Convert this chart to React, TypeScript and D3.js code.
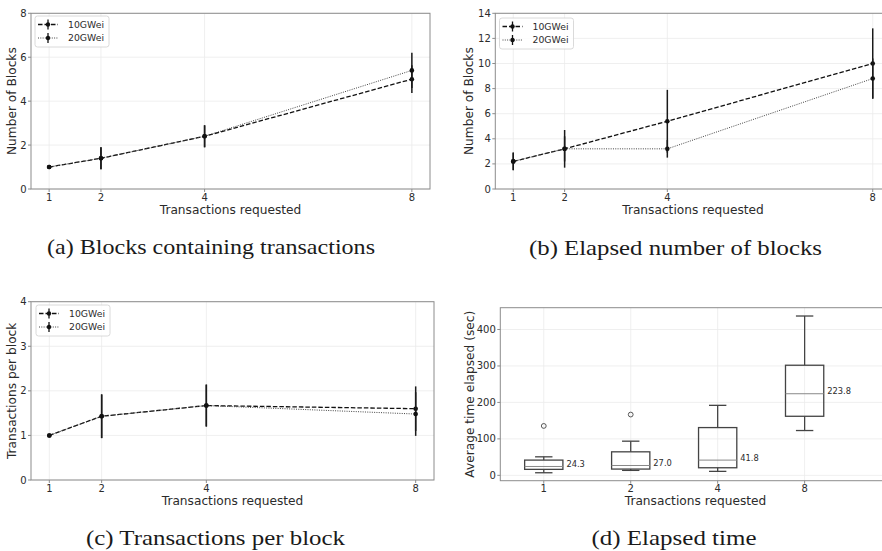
import { useEffect, useRef } from "react";
import * as d3 from "d3";

// ---- data ----
const txRequested = [1, 2, 4, 8];
const seriesNames = ["10GWei", "20GWei"];

// (a) blocks containing transactions
const blocks10 = [1.0, 1.4, 2.4, 5.0];
const blocks10Err = [0, 0.5, 0.5, 0.63];
const blocks20 = [1.0, 1.4, 2.4, 5.4];
const blocks20Err = [0, 0.5, 0.5, 0.8];

// (b) elapsed number of blocks
const elapsed10 = [2.2, 3.2, 5.4, 10.0];
const elapsed10Err = [0.7, 1.5, 2.5, 2.8];
const elapsed20 = [2.2, 3.2, 3.2, 8.8];
const elapsed20Err = [0.7, 1.0, 0.7, 1.6];

// (c) transactions per block
const perBlock10 = [1.0, 1.43, 1.67, 1.6];
const perBlock10Err = [0, 0.49, 0.47, 0.5];
const perBlock20 = [1.0, 1.43, 1.67, 1.48];
const perBlock20Err = [0, 0.49, 0.47, 0.49];

// (d) elapsed time box plots
const boxCats = ["1", "2", "4", "8"];
const boxQ1 = [16.4, 17.2, 20.8, 162];
const boxMedian = [24.3, 27.0, 41.8, 223.8];
const boxQ3 = [41.8, 64.5, 131, 302];
const whiskerLow = [7.1, 13.6, 10.9, 122.9];
const whiskerHigh = [50.8, 93.7, 192, 437];
const boxOutliers = [[135.5], [166.7], [], []];

const captions = [
  "(a) Blocks containing transactions",
  "(b) Elapsed number of blocks",
  "(c) Transactions per block",
  "(d) Elapsed time",
];

const FONT = "DejaVu Sans";
const TEXT = "#2b2b2b";
const SPINE = "#8c8c8c";
const GRID = "#ebebeb";

const App = () => {
  const svgRef = useRef(null);

  useEffect(() => {
    const svg = d3.select(svgRef.current);
    svg.selectAll("*").remove();

    const frame = (g, x, y, box, xTicks, xFmt, yTicks, xLabel, yLabel, yLabelOff) => {
      // grid
      g.selectAll(".gx").data(xTicks).enter().append("line")
        .attr("x1", (d) => x(d)).attr("x2", (d) => x(d))
        .attr("y1", box.top).attr("y2", box.bottom)
        .attr("stroke", GRID).attr("stroke-width", 0.8);
      g.selectAll(".gy").data(yTicks).enter().append("line")
        .attr("x1", box.left).attr("x2", box.right)
        .attr("y1", (d) => y(d)).attr("y2", (d) => y(d))
        .attr("stroke", GRID).attr("stroke-width", 0.8);

      // spines
      g.append("rect")
        .attr("x", box.left).attr("y", box.top)
        .attr("width", box.right - box.left).attr("height", box.bottom - box.top)
        .attr("fill", "none").attr("stroke", SPINE).attr("stroke-width", 1);

      // ticks
      g.selectAll(".tx").data(xTicks).enter().append("line")
        .attr("x1", (d) => x(d)).attr("x2", (d) => x(d))
        .attr("y1", box.bottom).attr("y2", box.bottom + 3)
        .attr("stroke", SPINE);
      g.selectAll(".ty").data(yTicks).enter().append("line")
        .attr("x1", box.left - 3).attr("x2", box.left)
        .attr("y1", (d) => y(d)).attr("y2", (d) => y(d))
        .attr("stroke", SPINE);

      g.selectAll(".lx").data(xTicks).enter().append("text")
        .attr("x", (d) => x(d)).attr("y", box.bottom + 11.5)
        .attr("text-anchor", "middle")
        .style("font-family", FONT).style("font-size", "10px").style("fill", TEXT)
        .text((d, i) => xFmt(d, i));
      g.selectAll(".ly").data(yTicks).enter().append("text")
        .attr("x", box.left - 4.5).attr("y", (d) => y(d))
        .attr("dy", "0.35em")
        .attr("text-anchor", "end")
        .style("font-family", FONT).style("font-size", "10px").style("fill", TEXT)
        .text((d) => d);

      // axis titles
      g.append("text")
        .attr("x", (box.left + box.right) / 2).attr("y", box.bottom + 24.5)
        .attr("text-anchor", "middle")
        .style("font-family", FONT).style("font-size", "12.2px").style("fill", TEXT)
        .text(xLabel);
      const cy = (box.top + box.bottom) / 2;
      const cx = box.left - yLabelOff;
      g.append("text")
        .attr("transform", `translate(${cx},${cy}) rotate(-90)`)
        .attr("text-anchor", "middle").attr("dy", "0.35em")
        .style("font-family", FONT).style("font-size", "12.2px").style("fill", TEXT)
        .text(yLabel);
    };

    const styles = [
      { stroke: "#111", width: 1.3, dash: "4.5,2" },
      { stroke: "#444", width: 1, dash: "1,1.3" },
    ];

    const linePanel = (box, yDomain, yTicks, series, yLabel, yLabelOff, legendPos) => {
      const g = svg.append("g");
      const x = d3.scaleLinear().domain([0.65, 8.35]).range([box.left, box.right]);
      const y = d3.scaleLinear().domain(yDomain).range([box.bottom, box.top]);
      frame(g, x, y, box, txRequested, (d) => d, yTicks, "Transactions requested", yLabel, yLabelOff);

      series.forEach((s, si) => {
        const line = d3.line().x((d, i) => x(txRequested[i])).y((d) => y(d));
        g.append("path")
          .datum(s.mean)
          .attr("d", line)
          .attr("fill", "none")
          .attr("stroke", styles[si].stroke)
          .attr("stroke-width", styles[si].width)
          .attr("stroke-dasharray", styles[si].dash);
      });
      series.forEach((s) => {
        g.selectAll(null).data(s.mean).enter().append("line")
          .attr("x1", (d, i) => x(txRequested[i])).attr("x2", (d, i) => x(txRequested[i]))
          .attr("y1", (d, i) => y(d - s.err[i])).attr("y2", (d, i) => y(d + s.err[i]))
          .attr("stroke", "#1a1a1a").attr("stroke-width", 1.5);
        g.selectAll(null).data(s.mean).enter().append("circle")
          .attr("cx", (d, i) => x(txRequested[i])).attr("cy", (d) => y(d))
          .attr("r", 2.3).attr("fill", "#111");
      });

      // legend
      const lg = g.append("g").attr("transform", `translate(${legendPos[0]},${legendPos[1]})`);
      lg.append("rect")
        .attr("width", 74).attr("height", 31).attr("rx", 2.5)
        .attr("fill", "white").attr("fill-opacity", 0.85)
        .attr("stroke", "#d0d0d0").attr("stroke-width", 0.8);
      seriesNames.forEach((name, si) => {
        const ey = 8.5 + si * 13.5;
        lg.append("line")
          .attr("x1", 3).attr("x2", 23).attr("y1", ey).attr("y2", ey)
          .attr("stroke", styles[si].stroke).attr("stroke-width", styles[si].width)
          .attr("stroke-dasharray", styles[si].dash);
        lg.append("line")
          .attr("x1", 13).attr("x2", 13).attr("y1", ey - 5).attr("y2", ey + 5)
          .attr("stroke", "#111").attr("stroke-width", 1.3);
        lg.append("circle").attr("cx", 13).attr("cy", ey).attr("r", 2.2).attr("fill", "#111");
        lg.append("text")
          .attr("x", 33).attr("y", ey).attr("dy", "0.35em")
          .style("font-family", FONT).style("font-size", "9.3px").style("fill", TEXT)
          .text(name);
      });
    };

    linePanel(
      { left: 31, right: 430, top: 13.3, bottom: 189 },
      [0, 8], [0, 2, 4, 6, 8],
      [{ mean: blocks10, err: blocks10Err }, { mean: blocks20, err: blocks20Err }],
      "Number of Blocks", 19, [35, 16]
    );
    linePanel(
      { left: 495.3, right: 890.7, top: 13.3, bottom: 189 },
      [0, 14], [0, 2, 4, 6, 8, 10, 12, 14],
      [{ mean: elapsed10, err: elapsed10Err }, { mean: elapsed20, err: elapsed20Err }],
      "Number of Blocks", 27, [499.5, 18]
    );
    linePanel(
      { left: 31, right: 434, top: 301.7, bottom: 480 },
      [0, 4], [0, 1, 2, 3, 4],
      [{ mean: perBlock10, err: perBlock10Err }, { mean: perBlock20, err: perBlock20Err }],
      "Transactions per block", 19.3, [36, 305]
    );

    // (d) box plot
    const box = { left: 500.3, right: 890.7, top: 307.7, bottom: 480.7 };
    const g = svg.append("g");
    const x = d3.scaleLinear().domain([0.5, 4.99]).range([box.left, box.right]);
    const y = d3.scaleLinear().domain([-14.7, 459.8]).range([box.bottom, box.top]);
    const pos = boxCats.map((c, i) => i + 1);
    frame(g, x, y, box, pos, (d, i) => boxCats[i], [0, 100, 200, 300, 400],
      "Transactions requested", "Average time elapsed (sec)", 31);

    const bw = 0.44;
    const cw = 0.2;
    const BOX = "#444";
    pos.forEach((p, i) => {
      g.append("line")
        .attr("x1", x(p)).attr("x2", x(p)).attr("y1", y(boxQ3[i])).attr("y2", y(whiskerHigh[i]))
        .attr("stroke", BOX).attr("stroke-width", 1.3);
      g.append("line")
        .attr("x1", x(p)).attr("x2", x(p)).attr("y1", y(boxQ1[i])).attr("y2", y(whiskerLow[i]))
        .attr("stroke", BOX).attr("stroke-width", 1.3);
      [whiskerHigh[i], whiskerLow[i]].forEach((v) => {
        g.append("line")
          .attr("x1", x(p - cw / 2)).attr("x2", x(p + cw / 2)).attr("y1", y(v)).attr("y2", y(v))
          .attr("stroke", BOX).attr("stroke-width", 1.3);
      });
      g.append("rect")
        .attr("x", x(p - bw / 2)).attr("y", y(boxQ3[i]))
        .attr("width", x(p + bw / 2) - x(p - bw / 2)).attr("height", y(boxQ1[i]) - y(boxQ3[i]))
        .attr("fill", "none").attr("stroke", BOX).attr("stroke-width", 1.3);
      g.append("line")
        .attr("x1", x(p - bw / 2)).attr("x2", x(p + bw / 2))
        .attr("y1", y(boxMedian[i])).attr("y2", y(boxMedian[i]))
        .attr("stroke", "#888").attr("stroke-width", 1);
      boxOutliers[i].forEach((o) => {
        g.append("circle").attr("cx", x(p)).attr("cy", y(o)).attr("r", 2.4)
          .attr("fill", "none").attr("stroke", BOX).attr("stroke-width", 0.9);
      });
      g.append("text")
        .attr("x", x(p + 0.26)).attr("y", y(boxMedian[i]) - 2.5).attr("dy", "0.35em")
        .style("font-family", FONT).style("font-size", "8.3px").style("fill", TEXT)
        .text(boxMedian[i].toFixed(1));
    });

    // captions
    const capPos = [
      [211, 254, 328], [675.5, 255, 293], [215.5, 545, 259], [674, 545, 165],
    ];
    captions.forEach((c, i) => {
      svg.append("text")
        .attr("x", capPos[i][0]).attr("y", capPos[i][1])
        .attr("text-anchor", "middle")
        .attr("textLength", capPos[i][2]).attr("lengthAdjust", "spacingAndGlyphs")
        .style("font-family", "Liberation Serif").style("font-size", "21px").style("fill", "#1a1a1a")
        .text(c);
    });
  }, []);

  return (
    <svg
      ref={svgRef}
      width={882}
      height={551}
      viewBox="0 0 882 551"
      style={{ position: "absolute", left: 0, top: 0, background: "white" }}
    ></svg>
  );
};

export default App;
